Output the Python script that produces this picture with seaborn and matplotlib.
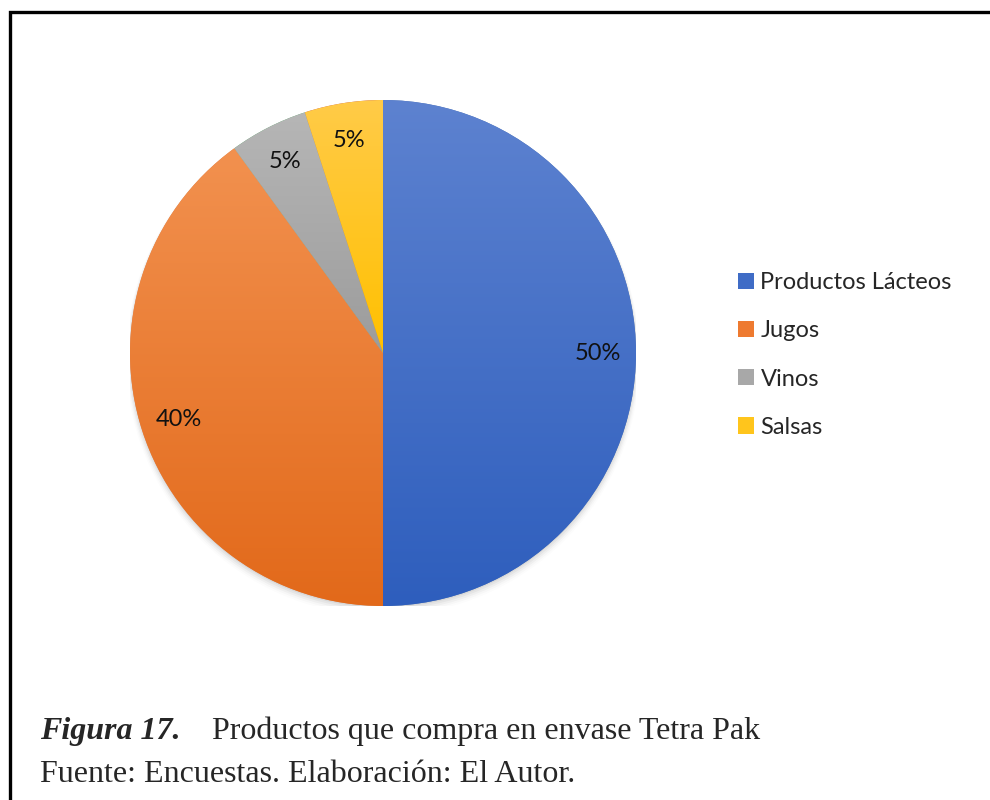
import numpy as np
import matplotlib
matplotlib.use("Agg")
import matplotlib.pyplot as plt
import matplotlib.colors as mcolors
from matplotlib.patches import Rectangle, Patch, Circle
import seaborn as sns

# datos del gráfico
categorias = ["Productos Lácteos", "Jugos", "Vinos", "Salsas"]
porcentajes = [50, 40, 5, 5]
colores_sup = ["#5D82D0", "#F2914F", "#B6B6B6", "#FFCB48"]   # tono claro arriba
colores_inf = ["#2E5EBD", "#E2691A", "#9C9C9C", "#FFC000"]   # tono oscuro abajo
colores_leyenda = ["#3F6CC6", "#EE7A30", "#A8A8A8", "#FFC51C"]

titulo_fig = "Figura 17."
titulo = "Productos que compra en envase Tetra Pak"
fuente = "Fuente: Encuestas. Elaboración: El Autor."

sns.set_theme(style="white")
plt.rcParams["font.family"] = ["Lato", "DejaVu Sans"]

W, H = 990, 800
fig = plt.figure(figsize=(W / 100, H / 100), dpi=100)
fig.patch.set_facecolor("white")

# marco exterior
fig.patches.append(Rectangle((9.5 / W, -0.2), 1.2, 1.2 - 11.5 / H, transform=fig.transFigure,
                             fill=False, edgecolor="black", lw=2.4, zorder=0))

cx, cy, r = 383, 353, 253
ax = fig.add_axes([(cx - r) / W, (H - cy - r) / H, 2 * r / W, 2 * r / H])

wedges, textos, autotextos = ax.pie(
    porcentajes, startangle=90, counterclock=False, radius=1.0,
    autopct="%1.0f%%", pctdistance=0.85,
    wedgeprops=dict(edgecolor="none", linewidth=0),
    textprops=dict(fontsize=17, color="#111111"))
for t in textos:
    t.set_text("")

# sombra suave del pastel
for k, a in enumerate(np.linspace(0.05, 0.01, 5)):
    ax.add_patch(Circle((0, -0.006 - 0.004 * k), 1.0 + 0.004 * k, color="black", alpha=a, zorder=0.5, lw=0))

# relleno degradado vertical en cada sector
for w, c1, c2 in zip(wedges, colores_sup, colores_inf):
    ext = w.get_path().get_extents()
    t = np.linspace(0, 1, 256)[:, None]
    a1 = np.array(mcolors.to_rgb(c1))
    a2 = np.array(mcolors.to_rgb(c2))
    img = (a1[None, None, :] * (1 - t[:, :, None]) + a2[None, None, :] * t[:, :, None])
    im = ax.imshow(img, extent=[ext.x0, ext.x1, ext.y0, ext.y1], origin="upper",
                   aspect="auto", interpolation="bilinear", zorder=2)
    im.set_clip_path(w)
    w.set_zorder(1.9)

for at in autotextos:
    at.set_zorder(5)

ax.set_xlim(-1, 1)
ax.set_ylim(-1, 1)
ax.set_aspect("equal")
ax.axis("off")

handles = [Patch(facecolor=c, edgecolor="none") for c in colores_leyenda]
fig.legend(handles, categorias, loc="center left", bbox_to_anchor=(726 / W, 1 - 355 / H),
           frameon=False, fontsize=17, handlelength=0.68, handleheight=0.68,
           handletextpad=0.28, labelspacing=1.15, borderpad=0)

# pie de figura
fig.text(40 / W, 1 - 731 / H, titulo_fig, family="Liberation Serif", style="italic",
         weight="bold", fontsize=23, va="center", ha="left")
fig.text(212 / W, 1 - 731 / H, titulo, family="Liberation Serif", fontsize=23,
         va="center", ha="left")
fig.text(40 / W, 1 - 775 / H, fuente, family="Liberation Serif", fontsize=23,
         va="center", ha="left")

fig.savefig("out.png", dpi=100)
